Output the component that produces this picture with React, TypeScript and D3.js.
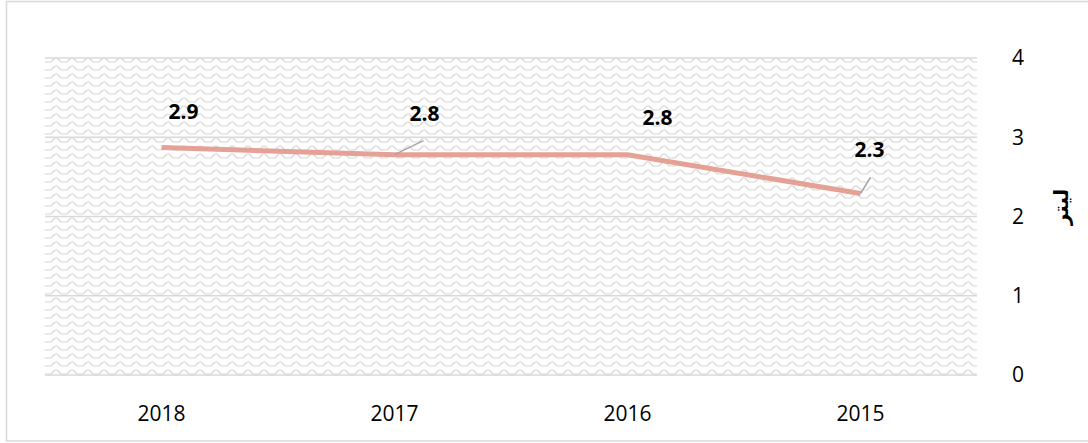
import React from "react";
import * as d3 from "d3";

const years = ["2018", "2017", "2016", "2015"];
const values = [2.87, 2.78, 2.78, 2.29];
const labels = ["2.9", "2.8", "2.8", "2.3"];
const yTicks = [0, 1, 2, 3, 4];
const yTitle = "ليتر";

const W = 1088;
const H = 443;
const plot = { left: 45, right: 977, top: 58, bottom: 375 };
const labelOffsets = [
  { dx: 22, dy: -29, leader: false },
  { dx: 30, dy: -34, leader: true },
  { dx: 30, dy: -30, leader: false },
  { dx: 9, dy: -37, leader: true },
];

export default function App() {
  const x = d3.scaleBand().domain(years).range([plot.left, plot.right]);
  const y = d3.scaleLinear().domain([0, 4]).range([plot.bottom, plot.top]);
  const cx = (d: string) => (x(d) as number) + x.bandwidth() / 2;
  const line = d3
    .line<number>()
    .x((_, i) => cx(years[i]))
    .y((v) => y(v));
  const font = "'Open Sans', 'DejaVu Sans', sans-serif";

  return (
    <svg
      width={W}
      height={H}
      style={{ position: "absolute", left: 0, top: 0, background: "#fff" }}
    >
      <defs>
        <pattern id="wave" width={16} height={8} patternUnits="userSpaceOnUse">
          <rect width={16} height={8} fill="#fff" />
          <path
            d="M0,6 L3,6 L5,4 L7,2 L9,2 L11,4 L13,6 L16,6"
            fill="none"
            stroke="#d6d6d6"
            strokeWidth={1.2}
          />
        </pattern>
      </defs>
      <rect x={6.5} y={1.5} width={1090} height={439.5} fill="#fff" stroke="#d9d9d9" strokeWidth={1.5} />
      <rect
        x={plot.left}
        y={plot.top}
        width={plot.right - plot.left}
        height={plot.bottom - plot.top}
        fill="url(#wave)"
      />
      {yTicks.map((t) => (
        <line
          key={t}
          x1={plot.left}
          x2={plot.right}
          y1={y(t)}
          y2={y(t)}
          stroke="#d9d9d9"
          strokeWidth={1.5}
        />
      ))}
      {yTicks.map((t) => (
        <text
          key={"t" + t}
          x={1018}
          y={y(t)}
          dy="0.35em"
          textAnchor="middle"
          fontFamily={font}
          fontSize={21}
          fill="#000"
        >
          {t}
        </text>
      ))}
      {years.map((yr) => (
        <text
          key={yr}
          x={cx(yr)}
          y={421}
          textAnchor="middle"
          fontFamily={font}
          fontSize={21}
          fill="#000"
        >
          {yr}
        </text>
      ))}
      <text
        transform={`translate(1061,207) rotate(-90)`}
        textAnchor="middle"
        dy="0.35em"
        fontFamily="'DejaVu Sans', sans-serif"
        fontWeight="bold"
        fontSize={20}
        fill="#000"
      >
        {yTitle}
      </text>
      <path
        d={line(values) || ""}
        fill="none"
        stroke="#e6a196"
        strokeWidth={5}
        strokeLinejoin="round"
      />
      {values.map((v, i) => {
        const px = cx(years[i]);
        const py = y(v);
        const o = labelOffsets[i];
        return (
          <g key={"l" + i}>
            {o.leader && (
              <line
                x1={px}
                y1={py}
                x2={px + (i === 1 ? 29 : 10)}
                y2={py + (i === 1 ? -14 : -16)}
                stroke="#a6a6a6"
                strokeWidth={1.5}
              />
            )}
            <text
              x={px + o.dx}
              y={py + o.dy}
              textAnchor="middle"
              fontFamily={font}
              fontWeight="bold"
              fontSize={21}
              fill="#000"
            >
              {labels[i]}
            </text>
          </g>
        );
      })}
    </svg>
  );
}
